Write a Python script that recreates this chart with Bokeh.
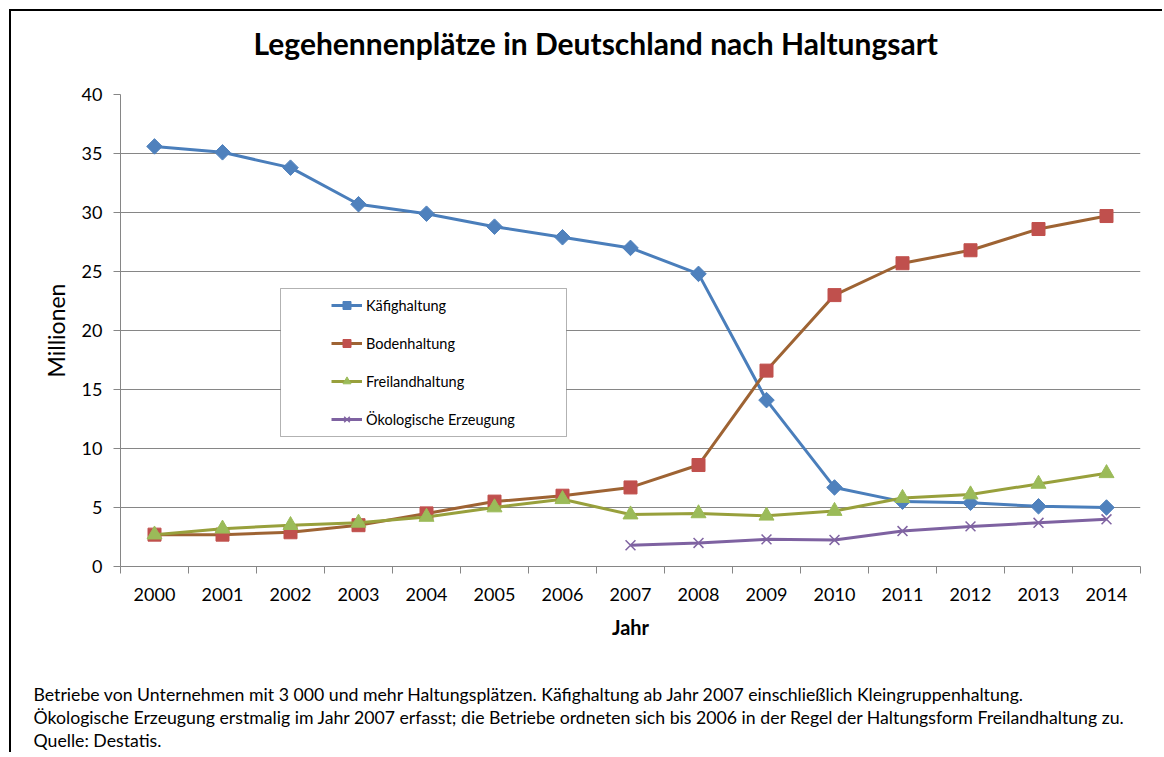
import math
from bokeh.plotting import figure
from bokeh.models import (Range1d, FixedTicker, BoxAnnotation, Legend, Title)
from bokeh.embed import file_html
from bokeh.resources import INLINE

# ---- data ----
years = ["2000", "2001", "2002", "2003", "2004", "2005", "2006", "2007",
         "2008", "2009", "2010", "2011", "2012", "2013", "2014"]
kaefig = [35.6, 35.1, 33.8, 30.7, 29.9, 28.8, 27.9, 27.0, 24.8, 14.1, 6.7, 5.5, 5.4, 5.1, 5.0]
boden = [2.7, 2.7, 2.9, 3.5, 4.5, 5.5, 6.0, 6.7, 8.6, 16.6, 23.0, 25.7, 26.8, 28.6, 29.7]
freiland = [2.7, 3.2, 3.5, 3.7, 4.2, 5.0, 5.7, 4.4, 4.5, 4.3, 4.7, 5.8, 6.1, 7.0, 7.9]
oeko_years = ["2007", "2008", "2009", "2010", "2011", "2012", "2013", "2014"]
oeko = [1.8, 2.0, 2.3, 2.25, 3.0, 3.4, 3.7, 4.0]
y_ticks = [0, 5, 10, 15, 20, 25, 30, 35, 40]

title_text = "Legehennenplätze in Deutschland nach Haltungsart"
notes = [
    "Betriebe von Unternehmen mit 3\u00a0000 und mehr Haltungsplätzen. Käfighaltung ab Jahr 2007 einschließlich Kleingruppenhaltung.",
    "Ökologische Erzeugung erstmalig im Jahr 2007 erfasst; die Betriebe ordneten sich bis 2006 in der Regel der Haltungsform Freilandhaltung zu.",
    "Quelle: Destatis.",
]

FONT = "Lato"
GRID = "#868686"

xpos = {y: i + 0.5 for i, y in enumerate(years)}

p = figure(width=1153, height=743, output_backend="svg", toolbar_location=None,
           x_range=Range1d(0, len(years)), y_range=Range1d(0, 40),
           min_border_left=109, min_border_right=24, min_border_top=83,
           min_border_bottom=188)
p.styles = {"margin-left": "11px", "margin-top": "11px",
            "box-shadow": "-2px -2px 0 0 black"}
p.outline_line_color = None
p.background_fill_color = "white"
p.border_fill_color = "white"

# title
p.title.text = title_text
p.title.align = "left"
p.title.offset = 133
p.title.text_font = FONT
p.title.text_font_style = "bold"
p.title.text_font_size = "30px"
p.title.text_color = "black"
p.title.standoff = 0
# spacer between title and plot area
p.add_layout(Title(text=" ", text_font_size="1px", standoff=31), "above")

# axes
xa = p.xaxis[0]
xa.ticker = FixedTicker(ticks=[xpos[y] for y in years],
                        minor_ticks=list(range(len(years) + 1)))
xa.major_label_overrides = {xpos[y]: y for y in years}
xa.major_tick_line_color = None
xa.minor_tick_out = 7
xa.minor_tick_in = 0
xa.minor_tick_line_color = GRID
xa.axis_line_color = GRID
xa.major_label_text_font = FONT
xa.major_label_text_font_size = "18px"
xa.major_label_text_color = "black"
xa.major_label_standoff = 14
xa.axis_label = "Jahr"
xa.axis_label_text_font = FONT
xa.axis_label_text_font_style = "bold"
xa.axis_label_text_font_size = "20px"
xa.axis_label_text_color = "black"
xa.axis_label_standoff = 11

ya = p.yaxis[0]
ya.ticker = FixedTicker(ticks=y_ticks, minor_ticks=[])
ya.major_tick_out = 7
ya.major_tick_in = 0
ya.major_tick_line_color = GRID
ya.axis_line_color = GRID
ya.major_label_text_font = FONT
ya.major_label_text_font_size = "18px"
ya.major_label_text_color = "black"
ya.major_label_standoff = 11
ya.axis_label = "Millionen"
ya.axis_label_text_font = FONT
ya.axis_label_text_font_style = "normal"
ya.axis_label_text_font_size = "23px"
ya.axis_label_text_color = "black"
ya.axis_label_standoff = 9

p.xgrid.grid_line_color = None
p.ygrid.ticker = FixedTicker(ticks=y_ticks)
p.ygrid.grid_line_color = GRID
p.ygrid.grid_line_width = 1

# legend box
p.add_layout(BoxAnnotation(left=160, right=446, bottom=130, top=278,
                           left_units="screen", right_units="screen",
                           top_units="screen", bottom_units="screen",
                           fill_color="white", fill_alpha=1,
                           line_color="black", line_width=1, level="glyph"))

series = [
    ("Käfighaltung", years, kaefig, "#4A7EBB", "#4F81BD", "square", 11),
    ("Bodenhaltung", years, boden, "#9E6333", "#C0504D", "square", 13),
    ("Freilandhaltung", years, freiland, "#98A03C", "#9BBB59", "triangle", 15),
    ("Ökologische Erzeugung", oeko_years, oeko, "#7E62A1", "#8064A2", "x", 14),
]

items = []
for name, xs_lab, ys, lc, mc, marker, size in series:
    xs = [xpos[v] for v in xs_lab]
    r1 = p.line(xs, ys, line_color=lc, line_width=3)
    if marker == "x":
        r2 = p.scatter(xs, ys, marker=marker, size=size, line_color=mc, line_width=1.5)
    elif name == "Käfighaltung":
        r2 = p.scatter(xs, ys, marker=marker, size=size, angle=math.pi / 4,
                       fill_color=mc, line_color=mc)
    else:
        r2 = p.scatter(xs, ys, marker=marker, size=size, fill_color=mc, line_color=mc)
    items.append((name, [r1, r2]))

legend = Legend(items=items, location=(211, 137), orientation="vertical",
                glyph_width=31, glyph_height=20, spacing=18, padding=0,
                label_standoff=4, label_text_font=FONT, label_text_font_size="14.5px",
                label_text_color="black", border_line_color=None,
                background_fill_alpha=0)
p.add_layout(legend, "center")

# footnotes (spacer first, then the three lines)
p.add_layout(Title(text=" ", text_font_size="1px", standoff=37), "below")
for t in notes:
    p.add_layout(Title(text=t, align="left", offset=-87, text_font=FONT,
                       text_font_size="17.7px", text_font_style="normal",
                       text_color="black", standoff=0), "below")

open("out.html", "w").write(file_html(p, INLINE))
